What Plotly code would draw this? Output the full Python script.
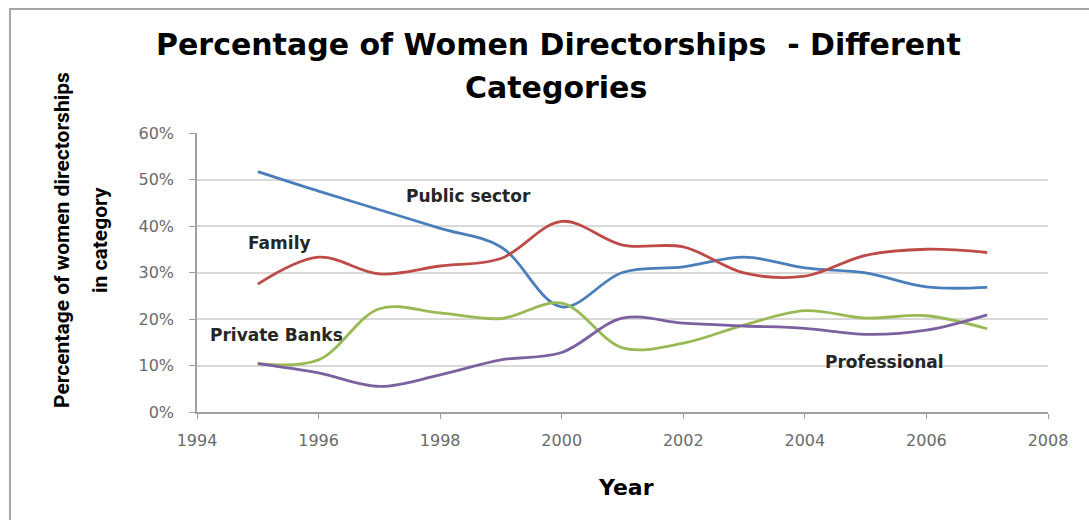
import plotly.graph_objects as go

years = [1995, 1996, 1997, 1998, 1999, 2000, 2001, 2002, 2003, 2004, 2005, 2006, 2007]
public_sector = [0.517, 0.475, 0.435, 0.395, 0.355, 0.226, 0.300, 0.312, 0.333, 0.310, 0.299, 0.269, 0.268]
family = [0.275, 0.333, 0.297, 0.314, 0.330, 0.410, 0.359, 0.355, 0.299, 0.292, 0.337, 0.350, 0.343]
private_banks = [0.104, 0.112, 0.222, 0.213, 0.201, 0.234, 0.138, 0.148, 0.187, 0.218, 0.202, 0.207, 0.179]
professional = [0.104, 0.084, 0.055, 0.080, 0.112, 0.128, 0.202, 0.191, 0.185, 0.180, 0.167, 0.176, 0.209]

series = [
    ("Public sector", public_sector, "#4A7EBB"),
    ("Family", family, "#BE4B48"),
    ("Private Banks", private_banks, "#98B954"),
    ("Professional", professional, "#7D60A0"),
]

wide_font = "DejaVu Sans, sans-serif"
narrow_font = "Roboto, sans-serif"

fig = go.Figure()
for name, vals, color in series:
    fig.add_trace(go.Scatter(
        x=years, y=vals, name=name, mode="lines",
        line=dict(color=color, width=2.8, shape="spline", smoothing=1.0),
        showlegend=False,
    ))

W, H = 1089, 520
L, R, T, B = 197, 41, 133, 108
pw, ph = W - L - R, H - T - B

def px(x):
    return (x - L) / pw

def py(y):
    return (H - B - y) / ph

annotations = [
    dict(text="<b>Percentage of Women Directorships  - Different</b>", x=px(558), y=py(45),
         font=dict(size=30, family=wide_font, color="#000000")),
    dict(text="<b>Categories</b>", x=px(556), y=py(88),
         font=dict(size=30, family=wide_font, color="#000000")),
    dict(text="<b>Percentage of women directorships</b>", x=px(62), y=py(240), textangle=-90,
         font=dict(size=21, family=narrow_font, color="#000000")),
    dict(text="<b>in category</b>", x=px(100), y=py(240), textangle=-90,
         font=dict(size=21, family=narrow_font, color="#000000")),
    dict(text="<b>Year</b>", x=px(626), y=py(487),
         font=dict(size=22, family=wide_font, color="#000000")),
    dict(text="<b>Public sector</b>", x=px(468), y=py(196),
         font=dict(size=17, family=wide_font, color="#262626")),
    dict(text="<b>Family</b>", x=px(279), y=py(243),
         font=dict(size=17, family=wide_font, color="#262626")),
    dict(text="<b>Private Banks</b>", x=px(276), y=py(335),
         font=dict(size=17, family=wide_font, color="#262626")),
    dict(text="<b>Professional</b>", x=px(884), y=py(362),
         font=dict(size=17, family=wide_font, color="#262626")),
]
for a in annotations:
    a.update(xref="paper", yref="paper", showarrow=False, xanchor="center", yanchor="middle")

fig.update_layout(
    width=W, height=H,
    margin=dict(l=L, r=R, t=T, b=B),
    paper_bgcolor="white", plot_bgcolor="white",
    annotations=annotations,
    shapes=[dict(type="rect", xref="paper", yref="paper",
                 x0=px(10), x1=px(1200), y0=py(9), y1=py(600),
                 line=dict(color="#A6A6A6", width=2), fillcolor="rgba(0,0,0,0)", layer="below")],
)
fig.update_xaxes(
    range=[1994, 2008], dtick=2, tick0=1994,
    showgrid=False, showline=True, linecolor="#A0A0A0", linewidth=1.5,
    ticks="outside", ticklen=5, tickcolor="#A0A0A0",
    ticklabelstandoff=8,
    tickfont=dict(size=16, family=wide_font, color="#6A6A6A"),
    zeroline=False,
)
fig.update_yaxes(
    range=[0, 0.6], dtick=0.1, tickformat=".0%",
    showgrid=True, gridcolor="#D9D9D9", gridwidth=1.5,
    showline=True, linecolor="#A0A0A0", linewidth=1.5,
    ticks="outside", ticklen=6, tickcolor="#A0A0A0",
    ticklabelstandoff=12,
    tickfont=dict(size=16, family=wide_font, color="#6A6A6A"),
    zeroline=False,
)

fig.write_html("out.html")
